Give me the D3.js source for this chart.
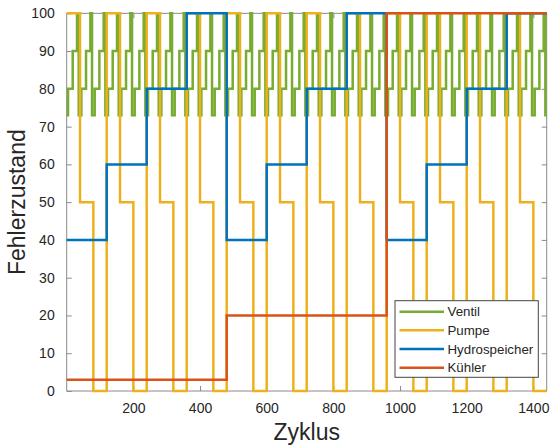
<!DOCTYPE html>
<html>
<head>
<meta charset="utf-8">
<script src="https://cdn.jsdelivr.net/npm/d3@7"></script>
<style>
  html, body { margin: 0; padding: 0; background: #fff; }
  svg { display: block; font-family: "Liberation Sans", Arial, Helvetica, sans-serif; }
</style>
</head>
<body>
<svg id="chart" width="550" height="446"></svg>
<script>
// ---- Data (step series: start cycle of each step and its level) ----
const seriesNames = ["Ventil", "Pumpe", "Hydrospeicher", "Kühler"];
const xEnd = 1440;

const ventilStart = [
  0,4,18,31, 36,44,58,71, 76,84,98,111, 116,124,138,151, 156,164,178,191,
  196,204,218,231, 236,244,258,271, 276,284,298,311, 316,324,338,351,
  356,364,378,391, 396,404,418,431, 436,444,458,471, 476,484,498,511,
  516,524,538,551, 556,564,578,591, 596,604,618,631, 636,644,658,671,
  676,684,698,711, 716,724,738,751, 756,764,778,791, 796,804,818,831,
  836,844,858,871, 876,884,898,911, 916,924,938,951, 956,964,978,991,
  996,1004,1018,1031, 1036,1044,1058,1071, 1076,1084,1098,1111,
  1116,1124,1138,1151, 1156,1164,1178,1191, 1196,1204,1218,1231,
  1236,1244,1258,1271, 1276,1284,1298,1311, 1316,1324,1338,1351,
  1356,1364,1378,1391, 1396,1404,1418,1431, 1436
];
const ventilLevel = [
  73,80,90,100, 73,80,90,100, 73,80,90,100, 73,80,90,100, 73,80,90,100,
  73,80,90,100, 73,80,90,100, 73,80,90,100, 73,80,90,100,
  73,80,90,100, 73,80,90,100, 73,80,90,100, 73,80,90,100,
  73,80,90,100, 73,80,90,100, 73,80,90,100, 73,80,90,100,
  73,80,90,100, 73,80,90,100, 73,80,90,100, 73,80,90,100,
  73,80,90,100, 73,80,90,100, 73,80,90,100, 73,80,90,100,
  73,80,90,100, 73,80,90,100, 73,80,90,100,
  73,80,90,100, 73,80,90,100, 73,80,90,100,
  73,80,90,100, 73,80,90,100, 73,80,90,100,
  73,80,90,100, 73,80,90,100, 73
];

const pumpeStart = [
  0,40,80, 120,160,200, 240,280,320, 360,400,440, 480,520,560, 600,640,680,
  720,760,800, 840,880,920, 960,1000,1040, 1080,1120,1160, 1200,1240,1280, 1320,1360,1400
];
const pumpeLevel = [
  100,50,0, 100,50,0, 100,50,0, 100,50,0, 100,50,0, 100,50,0,
  100,50,0, 100,50,0, 100,50,0, 100,50,0, 100,50,0, 100,50,0
];

const hydroStart = [0,120,240,360, 480,600,720,840, 960,1080,1200,1320];
const hydroLevel = [40,60,80,100, 40,60,80,100, 40,60,80,100];

const kuehlerStart = [0,480,960];
const kuehlerLevel = [3,20,100];

const xTicks = [200,400,600,800,1000,1200,1400];
const yTicks = [0,10,20,30,40,50,60,70,80,90,100];

const colors = ["#77AC30", "#EDB120", "#0072BD", "#D95319"];

// ---- Layout ----
const svg = d3.select("#chart");
const L = 66.7, R = 546.7, T = 13.3, B = 391;
const x = d3.scaleLinear().domain([0, xEnd]).range([L, R]);
const y = d3.scaleLinear().domain([0, 100]).range([B, T]);

svg.append("rect").attr("width", 550).attr("height", 446).attr("fill", "#fff");

const axisColor = "#8a8a8a";
const textColor = "#262626";

// Axes box
const box = svg.append("g");
box.append("line").attr("x1", L).attr("x2", R).attr("y1", B).attr("y2", B).attr("stroke", axisColor);
box.append("line").attr("x1", L).attr("x2", R).attr("y1", T).attr("y2", T).attr("stroke", axisColor);
box.append("line").attr("x1", L).attr("x2", L).attr("y1", T).attr("y2", B).attr("stroke", axisColor);
box.append("line").attr("x1", R).attr("x2", R).attr("y1", T).attr("y2", B).attr("stroke", axisColor);

// Bottom axis (inward ticks)
const xAxis = d3.axisBottom(x).tickValues(xTicks).tickSize(-5).tickPadding(12).tickFormat(d3.format("d"));
const gx = svg.append("g").attr("transform", `translate(0,${B})`).call(xAxis);
gx.select(".domain").remove();
gx.selectAll(".tick line").attr("stroke", axisColor);
gx.selectAll(".tick text").attr("fill", textColor).attr("font-size", 14).attr("font-family", "Liberation Sans, Arial, sans-serif");

// Top ticks
const xAxisTop = d3.axisTop(x).tickValues(xTicks).tickSize(-5).tickFormat("");
const gxt = svg.append("g").attr("transform", `translate(0,${T})`).call(xAxisTop);
gxt.select(".domain").remove();
gxt.selectAll(".tick line").attr("stroke", axisColor);

// Left axis
const yAxis = d3.axisLeft(y).tickValues(yTicks).tickSize(-5).tickPadding(12).tickFormat(d3.format("d"));
const gy = svg.append("g").attr("transform", `translate(${L},0)`).call(yAxis);
gy.select(".domain").remove();
gy.selectAll(".tick line").attr("stroke", axisColor);
gy.selectAll(".tick text").attr("fill", textColor).attr("font-size", 14).attr("font-family", "Liberation Sans, Arial, sans-serif");

// Right ticks
const yAxisR = d3.axisRight(y).tickValues(yTicks).tickSize(-5).tickFormat("");
const gyr = svg.append("g").attr("transform", `translate(${R},0)`).call(yAxisR);
gyr.select(".domain").remove();
gyr.selectAll(".tick line").attr("stroke", axisColor);

// ---- Series ----
function toPoints(starts, levels) {
  const pts = starts.map((s, i) => [s, levels[i]]);
  pts.push([xEnd, levels[levels.length - 1]]);
  return pts;
}
const allSeries = [
  toPoints(ventilStart, ventilLevel),
  toPoints(pumpeStart, pumpeLevel),
  toPoints(hydroStart, hydroLevel),
  toPoints(kuehlerStart, kuehlerLevel)
];

const line = d3.line().x(d => x(d[0])).y(d => y(d[1])).curve(d3.curveStepAfter);
svg.append("g").selectAll("path").data(allSeries).join("path")
  .attr("d", line)
  .attr("fill", "none")
  .attr("stroke", (d, i) => colors[i])
  .attr("stroke-width", 2.5)
  .attr("stroke-linejoin", "miter");

// ---- Labels ----
svg.append("text").attr("x", (L + R) / 2).attr("y", 440)
  .attr("text-anchor", "middle").attr("font-size", 23).attr("fill", textColor)
  .text("Zyklus");
svg.append("text").attr("transform", `translate(25,${(T + B) / 2}) rotate(-90)`)
  .attr("text-anchor", "middle").attr("font-size", 23).attr("fill", textColor)
  .text("Fehlerzustand");

// ---- Legend ----
const lg = svg.append("g");
const lgX = 395, lgY = 300.7, lgW = 143.3, lgH = 76.6;
lg.append("rect").attr("x", lgX).attr("y", lgY).attr("width", lgW).attr("height", lgH)
  .attr("fill", "#fff").attr("stroke", "#444").attr("stroke-width", 1);
const rowY = d3.scaleLinear().domain([0, 3]).range([311.7, 367.7]);
seriesNames.forEach((name, i) => {
  lg.append("line").attr("x1", 399.5).attr("x2", 444).attr("y1", rowY(i)).attr("y2", rowY(i))
    .attr("stroke", colors[i]).attr("stroke-width", 2.5);
  lg.append("text").attr("x", 447.5).attr("y", rowY(i)).attr("dy", "0.35em")
    .attr("font-size", 13.3).attr("fill", textColor).text(name);
});
</script>
</body>
</html>
